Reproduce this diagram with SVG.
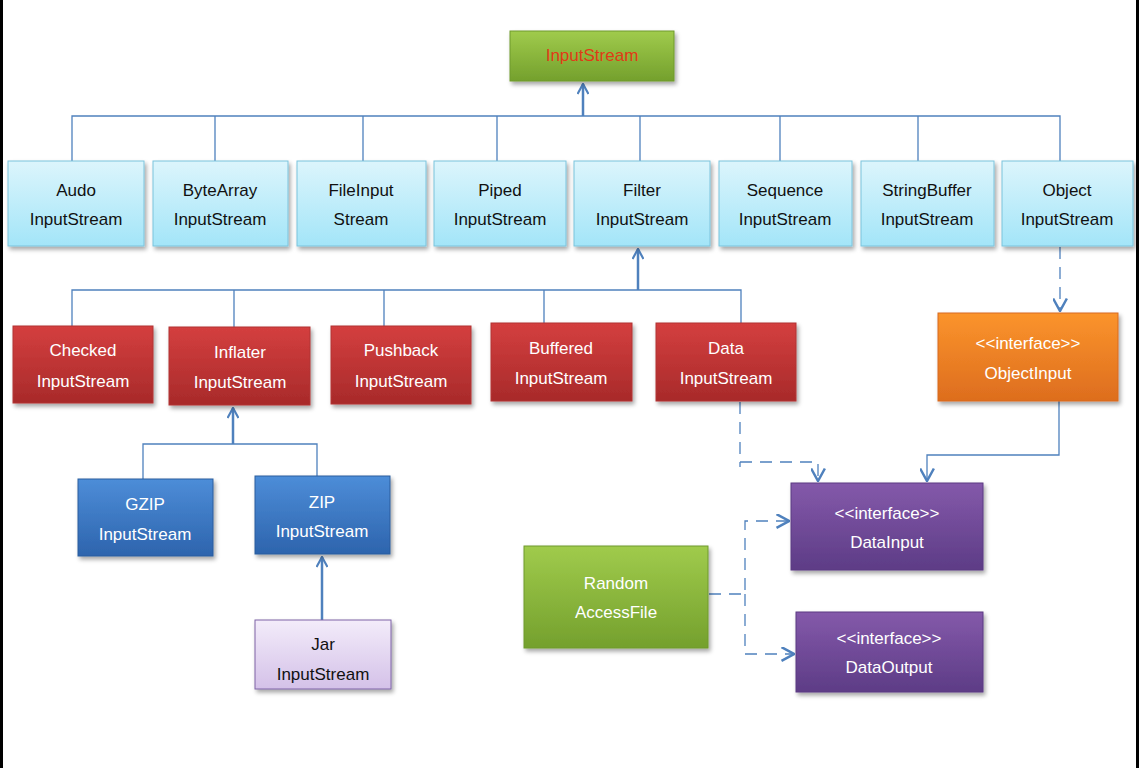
<svg xmlns="http://www.w3.org/2000/svg" width="1139" height="768" viewBox="0 0 1139 768">
<defs>
<linearGradient id="gCyan" x1="0" y1="0" x2="0" y2="1"><stop offset="0" stop-color="#dcf5fc"/><stop offset="1" stop-color="#a3e5f8"/></linearGradient>
<linearGradient id="gRed" x1="0" y1="0" x2="0" y2="1"><stop offset="0" stop-color="#d43f3f"/><stop offset="1" stop-color="#a82a2a"/></linearGradient>
<linearGradient id="gBlue" x1="0" y1="0" x2="0" y2="1"><stop offset="0" stop-color="#4d8dd8"/><stop offset="1" stop-color="#2d64ad"/></linearGradient>
<linearGradient id="gJar" x1="0" y1="0" x2="0" y2="1"><stop offset="0" stop-color="#f3ecfa"/><stop offset="1" stop-color="#d4c1e8"/></linearGradient>
<linearGradient id="gOrange" x1="0" y1="0" x2="0" y2="1"><stop offset="0" stop-color="#fb942c"/><stop offset="1" stop-color="#dd6d1e"/></linearGradient>
<linearGradient id="gPurple" x1="0" y1="0" x2="0" y2="1"><stop offset="0" stop-color="#8459aa"/><stop offset="1" stop-color="#5d3c86"/></linearGradient>
<linearGradient id="gGreen" x1="0" y1="0" x2="0" y2="1"><stop offset="0" stop-color="#a0cb4c"/><stop offset="1" stop-color="#74a02d"/></linearGradient>
<filter id="sh" x="-10%" y="-10%" width="125%" height="130%"><feDropShadow dx="2" dy="3" stdDeviation="2" flood-color="#000" flood-opacity="0.35"/></filter>
<marker id="arr" viewBox="0 0 12 12" refX="11" refY="6" markerWidth="12" markerHeight="12" markerUnits="userSpaceOnUse" orient="auto"><path d="M1,0.5 L11,6 L1,11.5" fill="none" stroke="#4f81bd" stroke-width="2.2"/></marker>
<marker id="arrB" viewBox="0 0 12 12" refX="11" refY="6" markerWidth="15" markerHeight="15" markerUnits="userSpaceOnUse" orient="auto"><path d="M1,0.5 L11,6 L1,11.5" fill="none" stroke="#4f81bd" stroke-width="2"/></marker>
</defs>
<style>
text{font-family:"Liberation Sans",Arial,sans-serif;font-size:17px;text-anchor:middle}
.cy rect{fill:url(#gCyan);stroke:#7bc3dc;stroke-width:1;filter:url(#sh)}
.rd rect{fill:url(#gRed);stroke:#b13434;stroke-width:1;filter:url(#sh)}
.bl rect{fill:url(#gBlue);stroke:#2b5d9e;stroke-width:1;filter:url(#sh)}
.pu rect{fill:url(#gPurple);stroke:#5b3b82;stroke-width:1;filter:url(#sh)}
.or rect{fill:url(#gOrange);stroke:#d86b1e;stroke-width:1;filter:url(#sh)}
.gr rect{fill:url(#gGreen);stroke:#6e9a2c;stroke-width:1;filter:url(#sh)}
.jr rect{fill:url(#gJar);stroke:#7e63a6;stroke-width:1;filter:url(#sh)}
.cy text,.jr text{fill:#111}
.rd text,.bl text,.pu text,.or text,.gr text{fill:#fff}
.ln{fill:none;stroke:#4f81bd;stroke-width:1.3}
.ar{fill:none;stroke:#4f81bd;stroke-width:2.5}
.ds{fill:none;stroke:#4f81bd;stroke-width:1.3;stroke-dasharray:12,8}
</style>
<rect x="0" y="0" width="1139" height="768" fill="#fff"/>
<rect x="0" y="0" width="3" height="768" fill="#000"/>
<rect x="1136" y="0" width="3" height="768" fill="#000"/>

<g id="connectors">
<path class="ln" d="M72,161 V116 H1060 V161 M215,116 V161 M363,116 V161 M497,116 V161 M640,116 V161 M780,116 V161 M918,116 V161"/>
<path class="ar" d="M583,116 V84" marker-end="url(#arr)"/>
<path class="ln" d="M72,326 V290 H741 V323 M234,290 V327 M384,290 V326 M544,290 V323"/>
<path class="ar" d="M638,290 V249" marker-end="url(#arr)"/>
<path class="ln" d="M143,479 V444 H317 V477"/>
<path class="ar" d="M233,444 V408" marker-end="url(#arr)"/>
<path class="ar" d="M322,620 V557" marker-end="url(#arr)"/>
<path class="ds" d="M1060,247 V311" marker-end="url(#arrB)"/>
<path class="ln" d="M1059,401 V455 H927 V481" marker-end="url(#arrB)"/>
<path class="ds" d="M740,402 V467 M740,462 H818 V481" marker-end="url(#arrB)"/>
<path class="ds" d="M709,594 H745 V521 H789" marker-end="url(#arrB)"/>
<path class="ds" d="M745,594 V654 H794" marker-end="url(#arrB)"/>
</g>

<g id="InputStream" class="gr"><rect x="510" y="31" width="164" height="50"/><text x="592" y="61" fill="#e03a17" style="fill:#e03a17">InputStream</text></g>

<g id="AudoInputStream" class="cy"><rect x="8" y="161" width="136" height="85"/><text x="76" y="196">Audo</text><text x="76" y="225">InputStream</text></g>
<g id="ByteArrayInputStream" class="cy"><rect x="153" y="161" width="135" height="85"/><text x="220" y="196">ByteArray</text><text x="220" y="225">InputStream</text></g>
<g id="FileInputStream" class="cy"><rect x="297" y="161" width="129" height="85"/><text x="361" y="196">FileInput</text><text x="361" y="225">Stream</text></g>
<g id="PipedInputStream" class="cy"><rect x="434" y="161" width="132" height="85"/><text x="500" y="196">Piped</text><text x="500" y="225">InputStream</text></g>
<g id="FilterInputStream" class="cy"><rect x="574" y="161" width="136" height="85"/><text x="642" y="196">Filter</text><text x="642" y="225">InputStream</text></g>
<g id="SequenceInputStream" class="cy"><rect x="719" y="161" width="133" height="85"/><text x="785" y="196">Sequence</text><text x="785" y="225">InputStream</text></g>
<g id="StringBufferInputStream" class="cy"><rect x="861" y="161" width="133" height="85"/><text x="927" y="196">StringBuffer</text><text x="927" y="225">InputStream</text></g>
<g id="ObjectInputStream" class="cy"><rect x="1002" y="161" width="131" height="85"/><text x="1067" y="196">Object</text><text x="1067" y="225">InputStream</text></g>

<g id="CheckedInputStream" class="rd"><rect x="13" y="326" width="140" height="77"/><text x="83" y="356">Checked</text><text x="83" y="387">InputStream</text></g>
<g id="InflaterInputStream" class="rd"><rect x="169" y="327" width="141" height="78"/><text x="240" y="358">Inflater</text><text x="240" y="388">InputStream</text></g>
<g id="PushbackInputStream" class="rd"><rect x="331" y="326" width="140" height="78"/><text x="401" y="356">Pushback</text><text x="401" y="387">InputStream</text></g>
<g id="BufferedInputStream" class="rd"><rect x="491" y="323" width="141" height="78"/><text x="561" y="354">Buffered</text><text x="561" y="384">InputStream</text></g>
<g id="DataInputStream" class="rd"><rect x="656" y="323" width="140" height="78"/><text x="726" y="354">Data</text><text x="726" y="384">InputStream</text></g>

<g id="GZIPInputStream" class="bl"><rect x="78" y="479" width="135" height="77"/><text x="145" y="510">GZIP</text><text x="145" y="540">InputStream</text></g>
<g id="ZIPInputStream" class="bl"><rect x="255" y="476" width="135" height="78"/><text x="322" y="508">ZIP</text><text x="322" y="537">InputStream</text></g>
<g id="JarInputStream" class="jr"><rect x="255" y="620" width="136" height="69"/><text x="323" y="650">Jar</text><text x="323" y="680">InputStream</text></g>

<g id="ObjectInput" class="or"><rect x="938" y="313" width="180" height="88"/><text x="1028" y="349">&lt;&lt;interface&gt;&gt;</text><text x="1028" y="379">ObjectInput</text></g>
<g id="DataInput" class="pu"><rect x="791" y="483" width="192" height="87"/><text x="887" y="519">&lt;&lt;interface&gt;&gt;</text><text x="887" y="548">DataInput</text></g>
<g id="DataOutput" class="pu"><rect x="796" y="612" width="187" height="80"/><text x="889" y="644">&lt;&lt;interface&gt;&gt;</text><text x="889" y="673">DataOutput</text></g>
<g id="RandomAccessFile" class="gr"><rect x="524" y="546" width="184" height="102"/><text x="616" y="589">Random</text><text x="616" y="618">AccessFile</text></g>
</svg>
